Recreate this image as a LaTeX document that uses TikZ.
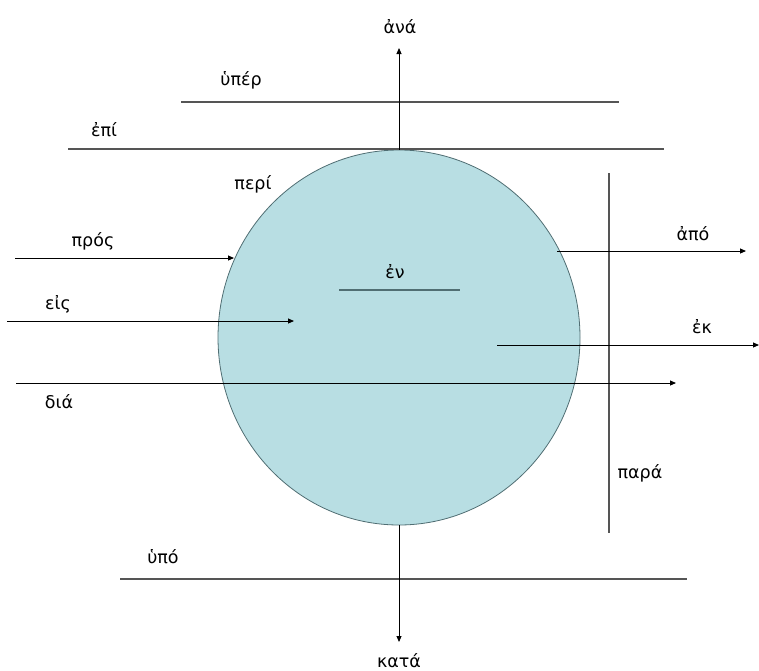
\documentclass[tikz,border=0pt]{standalone}
\usepackage{fontspec}
\setmainfont{DejaVu Sans}
\usetikzlibrary{arrows.meta,shapes.geometric}
\definecolor{ballfill}{RGB}{184,222,227}
\definecolor{ballline}{RGB}{80,110,115}
\definecolor{linegray}{RGB}{85,85,85}
\begin{document}
\begin{tikzpicture}[x=1pt,y=-1pt,
  lbl/.style={font=\fontsize{17.5}{20}\selectfont, inner sep=0pt, anchor=base},
  plain/.style={draw=linegray, line width=1.1pt},
  arr/.style={draw=black, line width=0.9pt, -{Triangle[length=6pt,width=5pt]}}]
\useasboundingbox (0,0) rectangle (759,670);
% sphere
\node[ellipse, draw=ballline, line width=0.8pt, fill=ballfill,
      minimum width=362pt, minimum height=375pt, inner sep=0pt] (ball) at (399,337.5) {};
% coordinates
\coordinate (anaTip) at (399,48);
\coordinate (hyperL) at (181,102); \coordinate (hyperR) at (619,102);
\coordinate (epiL) at (68,149); \coordinate (epiR) at (664,149);
\coordinate (prosS) at (15,258); \coordinate (prosE) at (234,258);
\coordinate (eisS) at (7,321); \coordinate (eisE) at (294,321);
\coordinate (diaS) at (16,383); \coordinate (diaE) at (676,383);
\coordinate (enL) at (339,290); \coordinate (enR) at (460,290);
\coordinate (apoS) at (557,251); \coordinate (apoE) at (746,251);
\coordinate (ekS) at (497,345); \coordinate (ekE) at (759,345);
\coordinate (paraT) at (609,173); \coordinate (paraB) at (609,533);
\coordinate (hypoL) at (120,579); \coordinate (hypoR) at (687,579);
\coordinate (kataTip) at (399,642);
% lines
\draw[plain] (hyperL) -- (hyperR);
\draw[plain] (epiL) -- (epiR);
\draw[plain] (paraT) -- (paraB);
\draw[plain] (hypoL) -- (hypoR);
\draw[draw=ballline, line width=1.4pt] (enL) -- (enR);
% arrows
\draw[arr] (ball.north) -- (anaTip);
\draw[arr] (ball.south) -- (kataTip);
\draw[arr] (prosS) -- (prosE);
\draw[arr] (eisS) -- (eisE);
\draw[arr] (diaS) -- (diaE);
\draw[arr] (apoS) -- (apoE);
\draw[arr] (ekS) -- (ekE);
% labels (base anchored)
\node[lbl] (tAna) at (400,33) {ἀνά};
\node[lbl] (tHyper) at (241,85) {ὑπέρ};
\node[lbl] (tEpi) at (104,136) {ἐπί};
\node[lbl] (tPeri) at (253,189) {περί};
\node[lbl] (tPros) at (93,246) {πρός};
\node[lbl] (tEis) at (58,309) {εἰς};
\node[lbl] (tDia) at (59,408) {διά};
\node[lbl] (tEn) at (395,278) {ἐν};
\node[lbl] (tApo) at (693,240) {ἀπό};
\node[lbl] (tEk) at (702,333) {ἐκ};
\node[lbl] (tPara) at (640,478) {παρά};
\node[lbl] (tHypo) at (163,563) {ὑπό};
\node[lbl] (tKata) at (399,667) {κατά};
\end{tikzpicture}
\end{document}
